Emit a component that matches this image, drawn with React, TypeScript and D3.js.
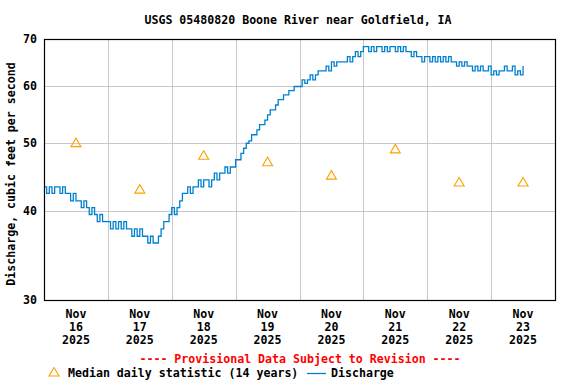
import * as d3 from "d3";

const TITLE = "USGS 05480820 Boone River near Goldfield, IA";
const Y_LABEL = "Discharge, cubic feet per second";
const PROVISIONAL = "---- Provisional Data Subject to Revision ----";
const FONT = "'DejaVu Sans Mono', 'Liberation Mono', monospace";

// days shown on the x axis (Nov 2025)
const DAYS = [16, 17, 18, 19, 20, 21, 22, 23];
const Y_TICKS = [30, 40, 50, 60, 70];

// median daily statistic (14 years), one per day
const MEDIANS = [50, 43, 48, 47, 45, 49, 44, 44];

// hourly discharge, cfs, starting Nov 16 00:00
const dischargeNov16 = [43.3, 42.4, 43.3, 42.4, 43.3, 43.3, 42.4, 43.3, 42.4, 42.4, 41.4, 42.4,
  41.4, 41.4, 40.5, 41.4, 40.5, 39.6, 40.5, 39.6, 38.7, 39.6, 38.7, 38.7];
const dischargeNov17 = [38.7, 37.8, 38.7, 37.8, 38.7, 37.8, 38.7, 37.8, 37.8, 36.9, 37.8, 36.9,
  37.8, 36.9, 36.9, 36.1, 36.9, 36.1, 36.1, 36.9, 37.8, 38.7, 38.7, 39.6];
const dischargeNov18 = [40.5, 39.6, 40.5, 41.4, 42.4, 42.4, 43.3, 42.4, 43.3, 43.3, 44.3, 43.3,
  44.3, 44.3, 43.3, 44.3, 45.3, 44.3, 45.3, 45.3, 46.2, 45.3, 46.2, 46.2];
const dischargeNov19 = [47.3, 47.3, 48.3, 49.1, 49.9, 50.3, 51.3, 51.3, 52.1, 53.0, 53.0, 53.8,
  54.7, 55.6, 55.6, 56.5, 57.5, 57.5, 58.4, 58.4, 59.2, 59.2, 60.0, 60.0];
const dischargeNov20 = [60.0, 61.3, 60.6, 61.3, 62.3, 61.3, 62.3, 63.1, 63.1, 63.1, 64.1, 63.1,
  65.0, 64.1, 65.0, 65.0, 65.0, 65.0, 66.1, 65.0, 66.1, 67.2, 66.1, 67.2];
const dischargeNov21 = [68.3, 68.3, 67.2, 68.3, 67.2, 68.3, 68.3, 67.2, 68.3, 67.2, 68.3, 68.3,
  67.2, 68.3, 67.2, 68.3, 67.2, 67.2, 66.1, 67.2, 66.1, 66.1, 65.0, 66.1];
const dischargeNov22 = [66.1, 65.0, 66.1, 65.0, 66.1, 65.0, 66.1, 65.0, 66.1, 65.0, 65.0, 64.1,
  65.0, 64.1, 65.0, 64.1, 64.1, 63.1, 64.1, 63.1, 64.1, 63.1, 63.1, 64.1];
const dischargeNov23 = [62.3, 63.1, 62.3, 63.1, 63.1, 64.1, 63.1, 63.1, 64.1, 62.3, 63.1, 62.3, 64.1];

const DISCHARGE = [
  ...dischargeNov16, ...dischargeNov17, ...dischargeNov18, ...dischargeNov19,
  ...dischargeNov20, ...dischargeNov21, ...dischargeNov22, ...dischargeNov23,
];

const W = 576;
const H = 384;
const mg = { l: 44, r: 555, t: 39, b: 300 };

const HOUR = 3600 * 1000;
const t0 = Date.UTC(2025, 10, 16);

export default function App() {
  const x = d3.scaleUtc()
    .domain([new Date(t0), new Date(Date.UTC(2025, 10, 24))])
    .range([mg.l, mg.r]);
  const y = d3.scaleLog().domain([30, 70]).range([mg.b, mg.t]);

  const pts = DISCHARGE.map((v, i) => ({ d: new Date(t0 + i * HOUR), v }));
  const line = d3.line<typeof pts[0]>()
    .x((p) => x(p.d))
    .y((p) => y(p.v))
    .curve(d3.curveStepAfter);

  const noon = (day: number) => new Date(Date.UTC(2025, 10, day, 12));
  const midnights = d3.range(17, 24).map((d) => new Date(Date.UTC(2025, 10, d)));

  const tri = (cx: number, cy: number) =>
    `M${cx},${cy - 4.5}L${cx - 5},${cy + 4}L${cx + 5},${cy + 4}Z`;

  const txt = { fontFamily: FONT, fontWeight: "bold" as const, fontSize: "11.6px" };

  return (
    <div style={{ position: "fixed", left: 0, top: 0, background: "#fff" }}>
      <svg width={W} height={H} style={{ display: "block" }}>
        <rect width={W} height={H} fill="#fff" />
        <text x={298} y={24} textAnchor="middle" fill="#000" {...txt}>{TITLE}</text>

        {/* grid */}
        {[40, 50, 60].map((t) => (
          <line key={t} x1={mg.l} x2={mg.r} y1={Math.round(y(t)) + 0.5} y2={Math.round(y(t)) + 0.5}
            stroke="#c8c8c8" />
        ))}
        {midnights.map((m) => (
          <line key={+m} x1={Math.round(x(m)) + 0.5} x2={Math.round(x(m)) + 0.5} y1={mg.t} y2={mg.b}
            stroke="#c8c8c8" />
        ))}

        {/* discharge */}
        <path d={line(pts) ?? ""} fill="none" stroke="#0080d0" strokeWidth={1.3} />

        {/* medians */}
        {MEDIANS.map((v, i) => (
          <path key={i} d={tri(x(noon(DAYS[i])), y(v))} fill="none" stroke="#ffa000" strokeWidth={1.1} />
        ))}

        <rect x={mg.l + 0.5} y={mg.t + 0.5} width={mg.r - mg.l} height={mg.b - mg.t}
          fill="none" stroke="#000" strokeWidth={1.2} />

        {/* y axis */}
        {Y_TICKS.map((t) => (
          <text key={t} x={37} y={y(t) + 4} textAnchor="end" fill="#000" {...txt}>{t}</text>
        ))}
        <text transform={`translate(15,174) rotate(-90)`} textAnchor="middle" fill="#000" {...txt}>
          {Y_LABEL}
        </text>

        {/* x axis */}
        {DAYS.map((d) => {
          const cx = x(noon(d));
          return (
            <g key={d}>
              <text x={cx} y={318} textAnchor="middle" fill="#000" {...txt}>Nov</text>
              <text x={cx} y={331} textAnchor="middle" fill="#000" {...txt}>{d}</text>
              <text x={cx} y={344} textAnchor="middle" fill="#000" {...txt}>2025</text>
            </g>
          );
        })}

        <text x={300} y={363} textAnchor="middle" fill="#ff0000" {...txt}>{PROVISIONAL}</text>

        {/* legend */}
        <path d={tri(54, 372)} fill="none" stroke="#ffa000" strokeWidth={1.1} />
        <text x={68} y={377} fill="#000" {...txt}>Median daily statistic (14 years)</text>
        <line x1={307} x2={326} y1={373.5} y2={373.5} stroke="#0080d0" strokeWidth={1.3} />
        <text x={331} y={377} fill="#000" {...txt}>Discharge</text>
      </svg>
    </div>
  );
}
